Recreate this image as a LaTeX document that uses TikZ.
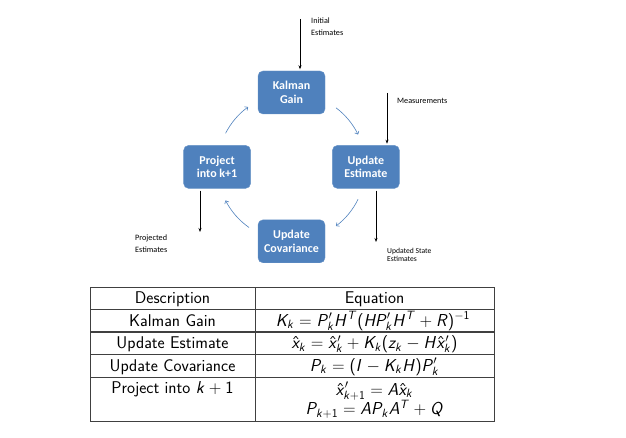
\documentclass[tikz,border=0pt]{standalone}
\usepackage[no-math]{fontspec}
\usetikzlibrary{positioning, arrows.meta}
\newfontfamily\calibri{Carlito}
\definecolor{kblue}{HTML}{4F81BD}
\definecolor{kline}{HTML}{404040}
\DeclareMathVersion{sfm}
\SetSymbolFont{operators}{sfm}{OT1}{cmss}{m}{n}
\SetSymbolFont{letters}{sfm}{OT1}{cmss}{m}{sl}

\begin{document}
\begin{tikzpicture}[x=1pt, y=-1pt,
  stage/.style={rectangle, rounded corners=5pt, fill=kblue, draw=kblue!85!white,
    text=white, minimum width=67pt, minimum height=43pt, inner sep=0pt, align=center,
    font=\calibri\bfseries\fontsize{12}{13.5}\selectfont},
  note/.style={inner sep=0pt, align=left, anchor=west, font=\calibri\fontsize{8.2}{12}\selectfont},
  feed/.style={-{Stealth[length=4pt, width=3pt]}, black, line width=0.6pt},
  cyc/.style={kblue, line width=0.6pt, -{To[length=3pt, width=5pt]}},
  cell/.style={inner sep=0pt, anchor=base, font=\sffamily\mathversion{sfm}\fontsize{17}{20}\selectfont},
  rule/.style={kline, line width=0.8pt}]
  \useasboundingbox (0,0) rectangle (626,438);

  % the four stages of the loop
  \node[stage] (kal) at (291.5,92.5) {Kalman\\Gain};
  \node[stage, below right=31pt and 7pt of kal] (est) {Update\\Estimate};
  \node[stage, below left=31pt and 7pt of kal] (proj) {Project\\into k+1};
  \node[stage, below right=31pt and 7pt of proj] (cov) {Update\\Covariance};

  \coordinate (ctr) at (kal |- proj);
  \draw[cyc] ([shift={(-153:74)}]ctr) arc[start angle=-153, end angle=-126, radius=74];
  \draw[cyc] ([shift={(-53:74)}]ctr) arc[start angle=-53, end angle=-26, radius=74];
  \draw[cyc] ([shift={(26:74)}]ctr) arc[start angle=26, end angle=53, radius=74];
  \draw[cyc] ([shift={(125:74)}]ctr) arc[start angle=125, end angle=153, radius=74];

  % inputs and outputs
  \coordinate (init) at (300,19);
  \coordinate (meas) at (387,93);
  \coordinate (pe) at (200,232);
  \coordinate (ue) at (376,242);
  \draw[feed, shorten >=1.5pt] (init) -- (init |- kal.north);
  \draw[feed, shorten >=1.5pt] (meas) -- (meas |- est.north);
  \draw[feed, shorten <=2pt] (pe |- proj.south) -- (pe);
  \draw[feed, shorten <=2pt] (ue |- est.south) -- (ue);

  \node[note] (initlbl) at (311,27) {Initial\\Estimates};
  \node[note] (measlbl) at (397,101) {Measurements};
  \node[note] (projlbl) at (135,244) {Projected\\Estimates};
  \node[note, font=\calibri\fontsize{7.6}{6}\selectfont] (updlbl) at (387,255) {Updated State\\Estimates};

  % table
  \draw[rule] (90,287) rectangle (494,421);
  \draw[rule] (255,287) -- (255,421);
  \draw[rule] (90,309) -- (494,309);
  \draw[rule, line width=1.5pt] (90,332) -- (494,332);
  \draw[rule] (90,354) -- (494,354);
  \draw[rule] (90,377) -- (494,377);

  \node[cell] (hdesc) at (172.5,303.5) {Description};
  \node[cell] (heq) at (374.5,303.5) {Equation};
  \node[cell] (dgain) at (172.5,326) {Kalman Gain};
  \node[cell] (egain) at (373,326) {$K_k = P'_k H^T (H P'_k H^T + R)^{-1}$};
  \node[cell] (dest) at (172.5,348.5) {Update Estimate};
  \node[cell] (eest) at (374.5,348.5) {$\hat{x}_k = \hat{x}'_k + K_k (z_k - H \hat{x}'_k)$};
  \node[cell] (dcov) at (172.5,371) {Update Covariance};
  \node[cell] (ecov) at (374.5,371) {$P_k = (I - K_k H) P'_k$};
  \node[cell] (dproj) at (172.5,393) {Project into $k+1$};
  \node[cell] (eproj) at (374.5,395) {$\hat{x}'_{k+1} = A \hat{x}_k$};
  \node[cell] (eproj2) at (374.5,414.5) {$P_{k+1} = A P_k A^T + Q$};
\end{tikzpicture}
\end{document}
